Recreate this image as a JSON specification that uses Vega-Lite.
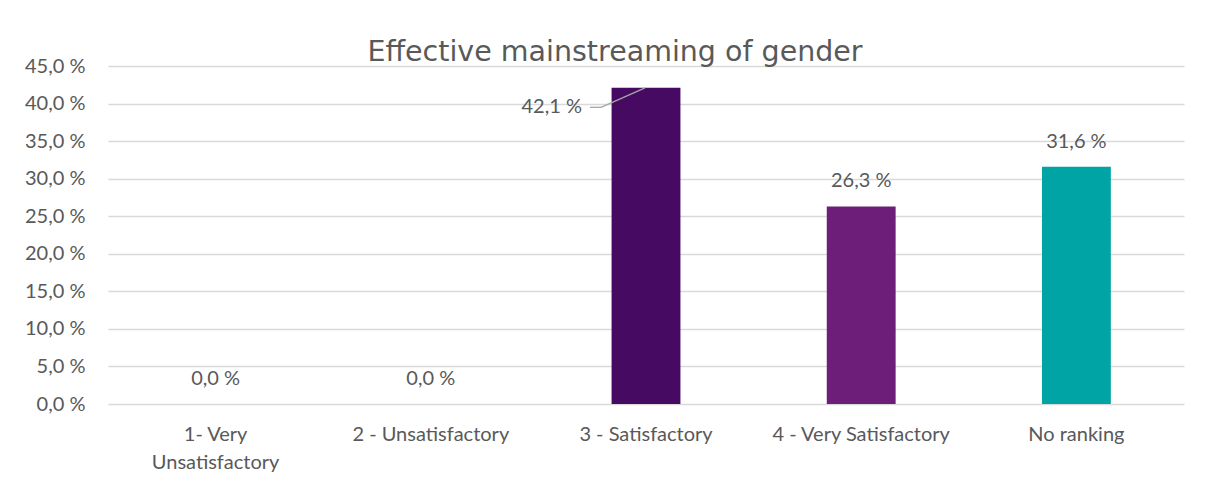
{
  "$schema": "https://vega.github.io/schema/vega-lite/v6.json",
  "autosize": "none",
  "width": 1076,
  "height": 338,
  "padding": {"left": 108, "top": 66, "right": 24, "bottom": 92},
  "background": "white",
  "title": {
    "text": "Effective mainstreaming of gender",
    "font": "DejaVu Sans",
    "fontSize": 28.5,
    "fontWeight": "normal",
    "color": "#595959",
    "anchor": "middle",
    "frame": "group",
    "dx": -31,
    "baseline": "alphabetic",
    "offset": 0,
    "dy": 33
  },
  "data": {
    "values": [
      {"category": "1- Very Unsatisfactory", "value": 0.0},
      {"category": "2 - Unsatisfactory", "value": 0.0},
      {"category": "3 - Satisfactory", "value": 42.1},
      {"category": "4 - Very Satisfactory", "value": 26.3},
      {"category": "No ranking", "value": 31.6}
    ]
  },
  "transform": [
    {"calculate": "replace(format(datum.value, '.1f'), '.', ',') + ' %'", "as": "label"}
  ],
  "encoding": {
    "x": {
      "field": "category",
      "type": "nominal",
      "sort": null,
      "scale": {"paddingInner": 0.68, "paddingOuter": 0.34},
      "axis": {
        "title": null,
        "labelAngle": 0,
        "domain": false,
        "ticks": false,
        "labelPadding": 20,
        "labelFont": "Lato",
        "labelFontSize": 20,
        "labelColor": "#595959",
        "labelLineHeight": 28,
        "labelBaseline": "top",
        "labelExpr": "datum.label == '1- Very Unsatisfactory' ? ['1- Very', 'Unsatisfactory'] : datum.label"
      }
    },
    "y": {
      "field": "value",
      "type": "quantitative",
      "scale": {"domain": [0, 45], "nice": false},
      "axis": {
        "title": null,
        "values": [0, 5, 10, 15, 20, 25, 30, 35, 40, 45],
        "labelOverlap": false,
        "labelBound": false,
        "labelExpr": "replace(format(datum.value, '.1f'), '.', ',') + ' %'",
        "domain": false,
        "ticks": false,
        "labelPadding": 23,
        "labelFont": "Lato",
        "labelFontSize": 20,
        "labelColor": "#595959",
        "gridColor": "#d9d9d9",
        "gridWidth": 1.3
      }
    }
  },
  "layer": [
    {
      "mark": {"type": "bar"},
      "encoding": {
        "color": {
          "field": "category",
          "type": "nominal",
          "sort": null,
          "legend": null,
          "scale": {
            "domain": ["1- Very Unsatisfactory", "2 - Unsatisfactory", "3 - Satisfactory", "4 - Very Satisfactory", "No ranking"],
            "range": ["#3a0850", "#5a1666", "#470a63", "#6c1e78", "#00a4a5"]
          }
        }
      }
    },
    {
      "transform": [{"filter": "datum.category != '3 - Satisfactory'"}],
      "mark": {"type": "text", "font": "Lato", "fontSize": 20, "color": "#595959", "baseline": "alphabetic", "dy": -19},
      "encoding": {
        "text": {"field": "label"}
      }
    },
    {
      "transform": [{"filter": "datum.category == '3 - Satisfactory'"}],
      "mark": {"type": "text", "font": "Lato", "fontSize": 20, "color": "#595959", "baseline": "alphabetic", "align": "right", "dx": -64, "dy": 25},
      "encoding": {
        "text": {"field": "label"}
      }
    },
    {
      "transform": [{"filter": "datum.category == '3 - Satisfactory'"}],
      "mark": {"type": "rule", "color": "#a6a6a6", "strokeWidth": 1.3, "xOffset": -1, "x2Offset": -45},
      "encoding": {
        "y2": {"datum": 39.5},
        "x2": {"field": "category"}
      }
    },
    {
      "transform": [{"filter": "datum.category == '3 - Satisfactory'"}],
      "mark": {"type": "rule", "color": "#a6a6a6", "strokeWidth": 1.3, "xOffset": -56, "x2Offset": -45},
      "encoding": {
        "y": {"datum": 39.5, "type": "quantitative"},
        "x2": {"field": "category"}
      }
    }
  ],
  "config": {
    "view": {"stroke": null}
  }
}
